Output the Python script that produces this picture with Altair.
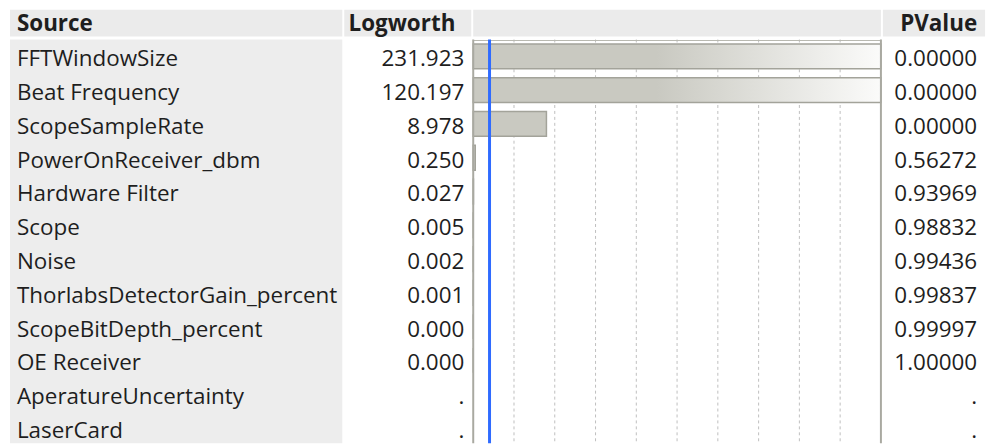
import altair as alt
import pandas as pd

# ---- data -------------------------------------------------------------
sources = [
    "FFTWindowSize", "Beat Frequency", "ScopeSampleRate", "PowerOnReceiver_dbm",
    "Hardware Filter", "Scope", "Noise", "ThorlabsDetectorGain_percent",
    "ScopeBitDepth_percent", "OE Receiver", "AperatureUncertainty", "LaserCard",
]
logworth = [231.923, 120.197, 8.978, 0.250, 0.027, 0.005, 0.002, 0.001, 0.000, 0.000, None, None]
pvalues = [0.00000, 0.00000, 0.00000, 0.56272, 0.93969, 0.98832, 0.99436, 0.99837, 0.99997, 1.00000, None, None]
headers = ["Source", "Logworth", "PValue"]
grid_values = [5, 10, 15, 20, 25, 30, 35, 40, 45]
axis_limits = [0, 50]
threshold = [2]  # logworth of p = 0.01

df = pd.DataFrame({"source": sources, "logworth": logworth, "pvalue": pvalues})

FONT = "Open Sans"
FS = 22.6
TXT = "#1E1E1E"
HEAD_BG = "#EBEBEB"
SRC_BG = "#EDEDED"
BAR_FILL = "#C9C9C1"
BAR_STROKE = "#A3A39A"

W, H = 994, 437
BODY_TOP = 30
ROW_END = 438.6

xscale = alt.Scale(domain=axis_limits, range=[469, 880], clamp=True, nice=False, zero=False)
Y = alt.Y("source:N", sort=sources,
          scale=alt.Scale(range=[BODY_TOP, ROW_END], paddingInner=0, paddingOuter=0),
          axis=None)

one = pd.DataFrame({"k": [0]})


def box(x1, x2, y1, y2, color):
    return alt.Chart(one).mark_rect(color=color).encode(
        x=alt.value(x1), x2=alt.value(x2), y=alt.value(y1), y2=alt.value(y2))


def header(label, x, align):
    return alt.Chart(pd.DataFrame({"h": [label]})).mark_text(
        font=FONT, fontSize=FS, fontWeight="bold", color=TXT, align=align, baseline="middle"
    ).encode(text="h:N", x=alt.value(x), y=alt.value(14))


base = alt.Chart(df)

# backgrounds
bg = [
    box(2, 337, 0, 27, HEAD_BG),
    box(339, 467, 0, 27, HEAD_BG),
    box(469, 880, 0, 27, HEAD_BG),
    box(882, 985, 0, 27, HEAD_BG),
    box(2, 337, BODY_TOP, H, SRC_BG),
]

grid = alt.Chart(pd.DataFrame({"g": grid_values})).mark_rule(
    color="#BEBEBE", strokeDash=[3, 3], strokeWidth=1
).encode(x=alt.X("g:Q", scale=xscale, axis=None), y=alt.value(BODY_TOP), y2=alt.value(H))

top_line = alt.Chart(pd.DataFrame({"a": [axis_limits[0]], "b": [axis_limits[1]]})).mark_rule(
    color="#B8B8B0", strokeWidth=1
).encode(x=alt.X("a:Q", scale=xscale, axis=None), x2="b:Q", y=alt.value(BODY_TOP + 1))

bars_plain = base.transform_filter("isValid(datum.logworth) && datum.logworth <= 50").mark_bar(
    height=25, fill=BAR_FILL, stroke=BAR_STROKE, strokeWidth=1.5
).encode(x=alt.X("logworth:Q", scale=xscale, axis=None), y=Y)

gradient = alt.LinearGradient(
    gradient="linear", x1=0, x2=1, y1=0, y2=0,
    stops=[alt.GradientStop(color=BAR_FILL, offset=0),
           alt.GradientStop(color=BAR_FILL, offset=0.45),
           alt.GradientStop(color="#FBFBFA", offset=1)])

bars_cut = base.transform_filter("isValid(datum.logworth) && datum.logworth > 50").mark_bar(
    height=25, fill=gradient, stroke=BAR_STROKE, strokeWidth=1.5
).encode(x=alt.X("logworth:Q", scale=xscale, axis=None), y=Y)

blue = alt.Chart(pd.DataFrame({"t": threshold})).mark_rule(
    color="#2F6BFF", strokeWidth=3
).encode(x=alt.X("t:Q", scale=xscale, axis=None), y=alt.value(BODY_TOP), y2=alt.value(H))

borders = alt.Chart(pd.DataFrame({"e": axis_limits})).mark_rule(
    color="#A9A9A1", strokeWidth=2
).encode(x=alt.X("e:Q", scale=xscale, axis=None), y=alt.value(BODY_TOP), y2=alt.value(H))

src_text = base.mark_text(
    font=FONT, fontSize=FS, color=TXT, align="left", baseline="middle", dy=3
).encode(text="source:N", x=alt.value(9), y=Y)

lw_text = base.transform_calculate(
    lw="isValid(datum.logworth) ? format(datum.logworth, '.3f') : '.'"
).mark_text(
    font=FONT, fontSize=FS, color=TXT, align="right", baseline="middle", dy=3
).encode(text="lw:N", x=alt.value(460), y=Y)

pv_text = base.transform_calculate(
    pv="isValid(datum.pvalue) ? format(datum.pvalue, '.5f') : '.'"
).mark_text(
    font=FONT, fontSize=FS, color=TXT, align="right", baseline="middle", dy=3
).encode(text="pv:N", x=alt.value(977), y=Y)

heads = [header(headers[0], 9, "left"), header(headers[1], 451, "right"), header(headers[2], 977, "right")]

chart = alt.layer(
    *bg, grid, top_line, bars_plain, bars_cut, blue, borders, src_text, lw_text, pv_text, *heads
).properties(
    width=W, height=H, padding=0, autosize=alt.AutoSizeParams(type="none")
).configure_view(stroke=None)

chart.save("out.html", embed_options={"renderer": "svg", "actions": False})
